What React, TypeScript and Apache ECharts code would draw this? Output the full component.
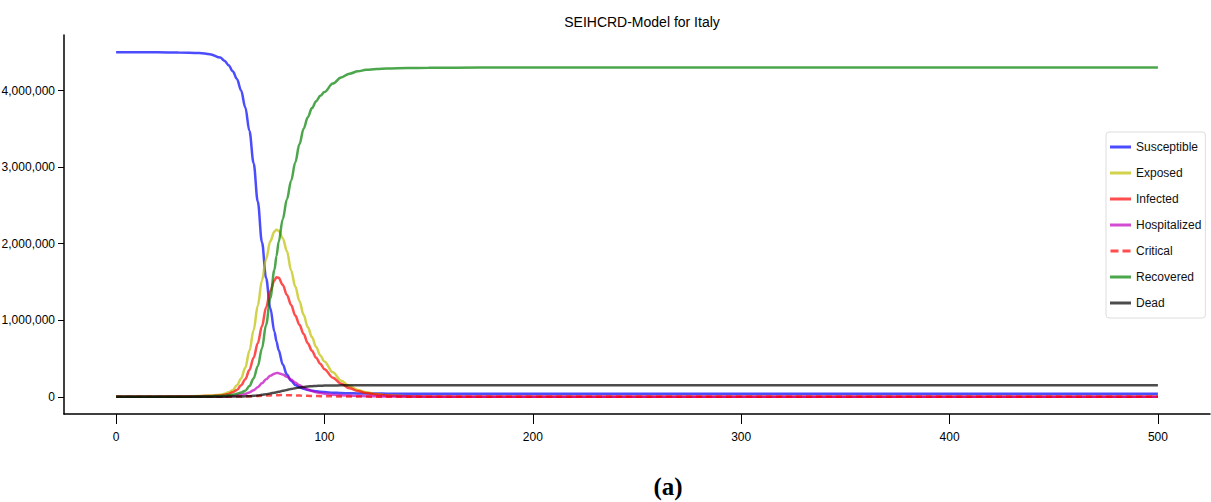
import React, { useEffect, useRef } from "react";
import * as echarts from "echarts";

const days = [0, 10, 20, 30, 40, 45, 50, 52, 54, 56, 58, 60, 62, 64, 66, 68, 70, 72, 74, 76, 77, 78, 80, 82, 84, 86, 88, 90, 92, 94, 96, 98, 100, 104, 108, 112, 116, 120, 125, 130, 140, 150, 175, 200, 250, 300, 350, 400, 450, 500];

const susceptible = [4500000, 4500000, 4499000, 4497000, 4490000, 4475000, 4430000, 4390000, 4330000, 4250000, 4150000, 4000000, 3780000, 3470000, 3050000, 2550000, 2020000, 1550000, 1160000, 850000, 720000, 610000, 420000, 290000, 210000, 155000, 125000, 105000, 90000, 80000, 72000, 66000, 61000, 54000, 49000, 46000, 44000, 43000, 42000, 41000, 40000, 40000, 40000, 40000, 40000, 40000, 40000, 40000, 40000, 40000];
const exposed = [0, 500, 1500, 4000, 10000, 16000, 25000, 38000, 58000, 90000, 150000, 240000, 380000, 600000, 870000, 1190000, 1520000, 1800000, 2030000, 2160000, 2180000, 2170000, 2070000, 1900000, 1650000, 1440000, 1250000, 1070000, 910000, 780000, 650000, 540000, 460000, 320000, 210000, 140000, 90000, 60000, 35000, 20000, 7000, 2500, 200, 0, 0, 0, 0, 0, 0, 0];
const infected = [0, 300, 1000, 3000, 7000, 11000, 18000, 25000, 37000, 60000, 90000, 150000, 230000, 350000, 510000, 700000, 920000, 1170000, 1380000, 1520000, 1560000, 1555000, 1460000, 1330000, 1200000, 1060000, 940000, 820000, 700000, 600000, 510000, 430000, 360000, 250000, 170000, 110000, 75000, 50000, 30000, 17000, 5000, 1500, 100, 0, 0, 0, 0, 0, 0, 0];
const hospitalized = [0, 0, 100, 500, 1500, 2500, 4000, 5500, 8000, 12000, 18000, 26000, 38000, 57000, 85000, 125000, 175000, 230000, 275000, 302000, 310000, 308000, 290000, 260000, 225000, 185000, 150000, 120000, 95000, 75000, 60000, 48000, 40000, 28000, 20000, 15000, 11000, 8000, 6000, 4000, 2000, 1000, 200, 0, 0, 0, 0, 0, 0, 0];
const critical = [0, 0, 0, 0, 200, 400, 800, 1000, 1500, 2000, 2500, 3000, 4500, 6000, 8000, 10000, 12000, 15000, 17500, 20000, 21000, 21500, 22000, 21000, 20000, 18000, 16000, 14000, 12000, 10500, 9000, 8000, 7000, 5500, 4000, 3000, 2500, 2000, 1500, 1000, 500, 300, 50, 0, 0, 0, 0, 0, 0, 0];
const recovered = [0, 0, 200, 800, 3000, 6000, 11000, 14000, 19000, 25000, 40000, 55000, 80000, 140000, 240000, 400000, 630000, 940000, 1290000, 1660000, 1840000, 2020000, 2320000, 2580000, 2820000, 3060000, 3300000, 3500000, 3650000, 3770000, 3860000, 3930000, 3980000, 4090000, 4170000, 4220000, 4250000, 4270000, 4280000, 4288000, 4293000, 4297000, 4300000, 4300000, 4300000, 4300000, 4300000, 4300000, 4300000, 4300000];
const dead = [0, 0, 0, 0, 300, 500, 1000, 1500, 2000, 2500, 3200, 4000, 6000, 8000, 12000, 18000, 25000, 33000, 43000, 54000, 59000, 65000, 78000, 90000, 102000, 112000, 121000, 129000, 135000, 139000, 142000, 144000, 146000, 148000, 149000, 150000, 150000, 150000, 150000, 150000, 150000, 150000, 150000, 150000, 150000, 150000, 150000, 150000, 150000, 150000];

const seriesNames = ["Susceptible", "Exposed", "Infected", "Hospitalized", "Critical", "Recovered", "Dead"];
const seriesValues = [susceptible, exposed, infected, hospitalized, critical, recovered, dead];
const seriesColors = ["#0000ff", "#bfbf00", "#ff0000", "#bf00bf", "#ff0000", "#008000", "#000000"];
const seriesDashed = [false, false, false, false, true, false, false];

const titleText = "SEIHCRD-Model for Italy";
const captionText = "(a)";

const FONT = "'Liberation Sans Narrow', 'Liberation Sans', Arial, sans-serif";

export default function App() {
  const ref = useRef<HTMLDivElement>(null);
  useEffect(() => {
    if (!ref.current) return;
    const chart = echarts.init(ref.current, undefined, { renderer: "svg" });
    const fmt = (v: number) => Math.round(v).toLocaleString("en-US");
    chart.setOption({
      animation: false,
      backgroundColor: "#ffffff",
      title: [
        {
          text: titleText,
          left: 637,
          top: 10,
          textAlign: "center",
          textStyle: { fontFamily: FONT, fontSize: 14, fontWeight: "normal", color: "#000" },
        },
        {
          text: captionText,
          left: 663,
          top: 469,
          textAlign: "center",
          textStyle: { fontFamily: "'Liberation Serif', 'Times New Roman', serif", fontSize: 25, fontWeight: "bold", color: "#000" },
        },
      ],
      legend: {
        orient: "vertical",
        left: 1106,
        top: 132,
        data: seriesNames.map((n, i) => ({
          name: n,
          icon: seriesDashed[i] ? "path://M0,0H8V3H0Z M12,0H20V3H12Z" : "rect",
          itemStyle: { opacity: 0.7 },
        })),
        itemWidth: 21,
        itemHeight: 3,
        itemGap: 14,
        padding: [9, 4, 9, 4],
        backgroundColor: "#ffffff",
        borderColor: "#dddddd",
        borderWidth: 1,
        borderRadius: 3,
        textStyle: { fontFamily: FONT, fontSize: 12, color: "#111" },
      },
      grid: { left: 64, top: 35, right: 1, bottom: 88, containLabel: false, outerBoundsMode: "none" },
      xAxis: {
        type: "value",
        min: -25,
        max: 525,
        splitNumber: 5,
        splitLine: { show: false },
        axisLine: { show: true, onZero: false, lineStyle: { color: "#000", width: 1.5 } },
        axisTick: { show: true, length: 10, lineStyle: { color: "#000", width: 1 } },
        axisLabel: {
          showMinLabel: false,
          showMaxLabel: false,
          margin: 17,
          fontFamily: FONT,
          fontSize: 12,
          color: "#000",
        },
      },
      yAxis: {
        type: "value",
        min: -225000,
        max: 4725000,
        splitNumber: 5,
        splitLine: { show: false },
        axisLine: { show: true, onZero: false, lineStyle: { color: "#000", width: 1.5 } },
        axisTick: { show: true, length: 6, lineStyle: { color: "#000", width: 1 } },
        axisLabel: {
          showMinLabel: false,
          showMaxLabel: false,
          margin: 9,
          fontFamily: FONT,
          fontSize: 12,
          color: "#000",
          formatter: fmt,
        },
      },
      series: seriesNames.map((name, i) => ({
        name,
        type: "line",
        data: days.map((d, j) => [d, seriesValues[i][j]]),
        showSymbol: false,
        symbol: "none",
        smooth: 0.35,
        smoothMonotone: "x",
        color: seriesColors[i],
        lineStyle: {
          color: seriesColors[i],
          width: 2.5,
          opacity: 0.7,
          type: seriesDashed[i] ? [6, 4] : "solid",
        },
        z: 2 + i,
      })),
    });
    return () => chart.dispose();
  }, []);
  return (
    <div
      ref={ref}
      style={{ position: "fixed", left: 0, top: 0, width: 1211, height: 502 }}
    />
  );
}
